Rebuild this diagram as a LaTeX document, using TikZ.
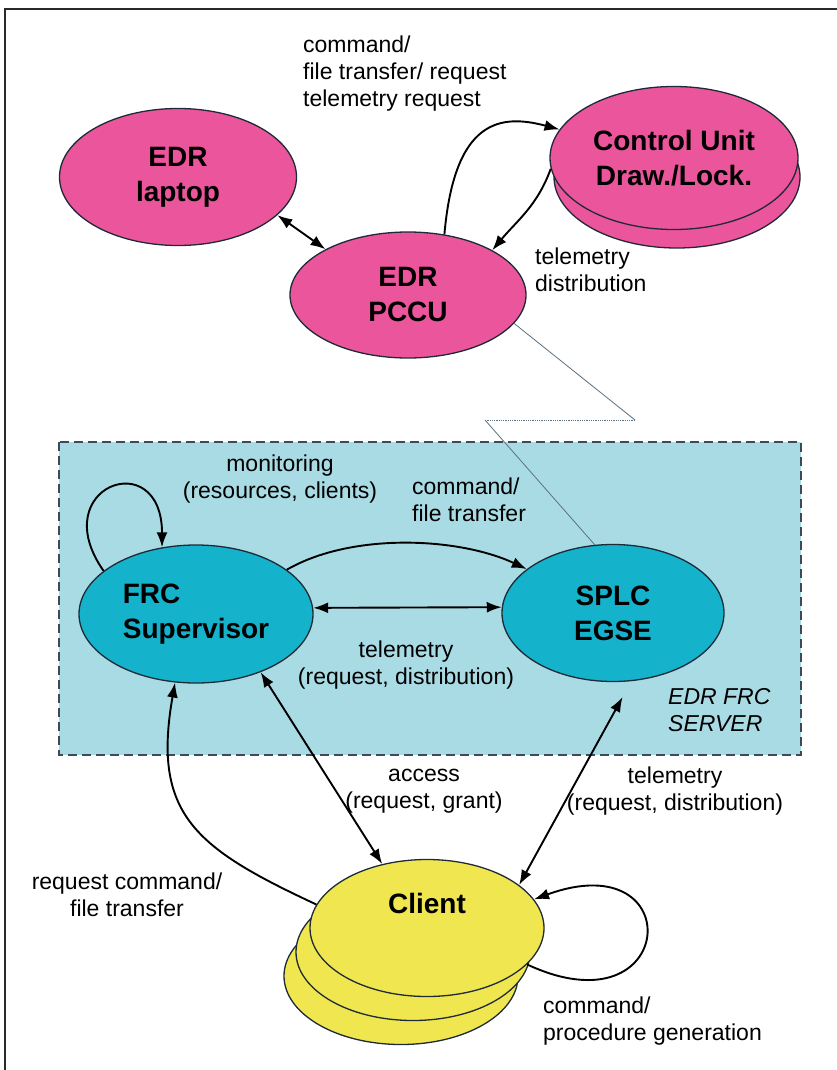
\documentclass[tikz,border=0pt]{standalone}
\usepackage{fontspec}
\setmainfont{Liberation Sans}
\usetikzlibrary{shapes.geometric, arrows.meta}
\definecolor{EDRPink}{HTML}{EA559B}
\definecolor{FRCTeal}{HTML}{14B2CB}
\definecolor{ServerBlue}{HTML}{A9DBE5}
\definecolor{ClientYellow}{HTML}{F0E650}
\definecolor{EdgeDark}{HTML}{1E2A36}
\definecolor{LinkGray}{HTML}{5C7080}
\definecolor{FrameGray}{HTML}{2A2A2A}

\newcommand{\unitfont}{\fontsize{28}{35}\selectfont\bfseries}
\newcommand{\flowfont}{\fontsize{23}{27}\selectfont}

\tikzset{
    % Pink EDR unit
    edrunit/.style={
        ellipse,
        draw=EdgeDark,
        line width=1.3pt,
        fill=EDRPink,
        inner sep=0pt,
        align=center,
        font=\unitfont
    },
    % Teal FRC unit
    frcunit/.style={
        edrunit,
        fill=FRCTeal
    },
    % Yellow client
    clientunit/.style={
        edrunit,
        fill=ClientYellow,
        minimum width=234pt,
        minimum height=137pt
    },
    % Plain bold text
    unittext/.style={
        inner sep=0pt,
        font=\unitfont
    },
    % Arrow style
    arrow/.style={
        -{Latex[length=15pt,width=11pt]},
        line width=1.9pt,
        color=black
    },
    % Two way arrow
    dblarrow/.style={
        {Latex[length=15pt,width=11pt]}-{Latex[length=15pt,width=11pt]},
        line width=1.9pt,
        color=black
    },
    % Connector labels
    flowlabel/.style={
        inner sep=0pt,
        align=center,
        font=\flowfont
    },
    % Thin link line
    link/.style={
        line width=0.8pt,
        draw=LinkGray
    },
    % Server area
    serverbox/.style={
        draw=EdgeDark!85,
        fill=ServerBlue,
        line width=1.8pt,
        dash pattern=on 9pt off 5pt
    },
    % Page frame
    frame/.style={
        line width=1.5pt,
        draw=FrameGray
    }
}

\begin{document}
\begin{tikzpicture}[x=1pt, y=-1pt]
    \useasboundingbox (0,0) rectangle (837,1070);
    \draw [frame] (5,1070) -- (5,9) -- (837,9);

    % Server area
    \draw [serverbox] (59,442) rectangle (801,755);

    % EDR side
    \node (laptop) [edrunit, minimum width=237pt, minimum height=137pt] at (178,177) {EDR\\laptop};
    \node (ctrlback) [edrunit, minimum width=246pt, minimum height=142pt] at (677,177) {};
    \node (ctrl) [edrunit, minimum width=248pt, minimum height=143pt] at (674,158) {Control Unit\\Draw./Lock.};
    \node (pccu) [edrunit, minimum width=236pt, minimum height=126pt] at (408,295) {EDR\\PCCU};

    % FRC server
    \node (frc) [frcunit, align=left, minimum width=234pt, minimum height=138pt] at (196,614) {FRC\\Supervisor};
    \node (splc) [frcunit, minimum width=222pt, minimum height=137pt] at (613,613) {SPLC\\EGSE};

    % Clients
    \node (client3) [clientunit] at (401,976) {};
    \node (client2) [clientunit] at (413,952) {};
    \node (client) [clientunit] at (427,928) {};
    \node (clientname) [unittext] at (427,903) {Client};

    % Connectors
    \draw [dblarrow] (laptop.339) -- (pccu.151);
    \draw [arrow] (pccu.59) to[out=85, in=165, out looseness=1.9, in looseness=1] (ctrl.166);
    \draw [arrow] (ctrl.185) to[out=250, in=50] (pccu.28);

    \coordinate (zzA) at (635,420);
    \coordinate (zzB) at (485,420);
    \draw [link] (pccu.-15) -- (zzA);
    \draw [link, densely dotted] (zzA) -- (zzB);
    \draw [link] (zzB) -- (splc.105);

    \draw [arrow] (frc.155) to[out=125, in=90, looseness=4.2] (frc.117);
    \draw [arrow] (frc.26) to[out=30, in=155, looseness=0.8] (splc.153);
    \draw [dblarrow] (frc.3) -- (splc.177);
    \draw [arrow] (client.168) to[out=155, in=260, looseness=1.3] (frc.253);
    \draw [dblarrow] (frc.318) -- (client.125);
    \draw [dblarrow, shorten <=18pt] (splc.285) -- (client.25);
    \draw [arrow] (client.-20) to[out=-25, in=20, looseness=6.5] (client.15);

    % Labels
    \node (lblTop) [flowlabel, anchor=west, align=left] at (303,74) {command/\\file transfer/ request\\telemetry request};
    \node (lblTmDist) [flowlabel, anchor=west, align=left] at (535,270) {telemetry\\distribution};
    \node (lblMon) [flowlabel] at (280,479) {monitoring\\(resources, clients)};
    \node (lblCmd) [flowlabel, anchor=west, align=left] at (412,500) {command/\\file transfer};
    \node (lblTmFrc) [flowlabel] at (406,665) {telemetry\\(request, distribution)};
    \node (lblServer) [flowlabel, anchor=west, align=left, font=\flowfont\itshape] at (668,710) {EDR FRC\\SERVER};
    \node (lblAccess) [flowlabel] at (424,791) {access\\(request, grant)};
    \node (lblTmClient) [flowlabel] at (675,791) {telemetry\\(request, distribution)};
    \node (lblReq) [flowlabel] at (127,895) {request command/\\file transfer};
    \node (lblProc) [flowlabel, anchor=west, align=left] at (543,1021) {command/\\procedure generation};
\end{tikzpicture}
\end{document}
